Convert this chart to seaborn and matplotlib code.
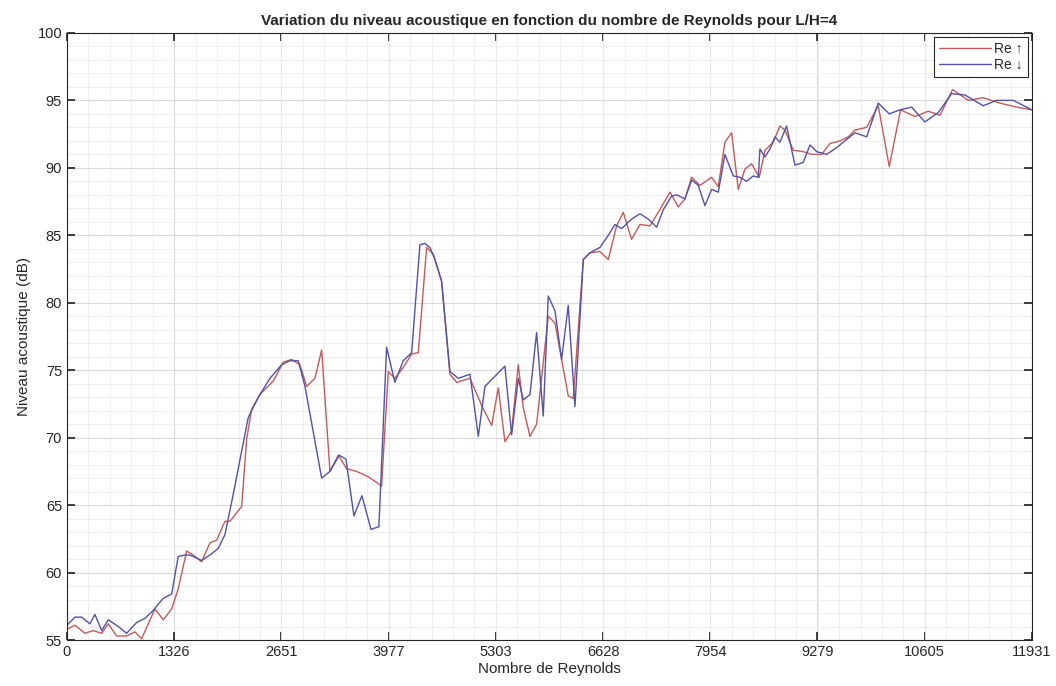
import numpy as np
import pandas as pd
import matplotlib
matplotlib.use("Agg")
import matplotlib.pyplot as plt
from matplotlib.ticker import MultipleLocator, AutoMinorLocator
import seaborn as sns

# Re increasing (red)
re_up_x = [0, 99, 223, 325, 429, 511, 614, 738, 841, 923, 1005, 1088, 1191, 1294,
           1376, 1480, 1562, 1665, 1768, 1851, 1953, 2015, 2160, 2222, 2283, 2386,
           2551, 2675, 2778, 2881, 2964, 3066, 3149, 3252, 3355, 3458, 3581, 3725,
           3849, 3890, 3973, 4055, 4158, 4262, 4344, 4447, 4529, 4632, 4735, 4818,
           4983, 5127, 5251, 5333, 5415, 5498, 5580, 5642, 5725, 5807, 5951, 6034,
           6198, 6260, 6384, 6466, 6590, 6693, 6796, 6878, 6981, 7085, 7208, 7311,
           7456, 7558, 7641, 7724, 7826, 7971, 8053, 8135, 8218, 8300, 8383, 8465,
           8560, 8630, 8733, 8815, 8877, 8980, 9104, 9207, 9331, 9434, 9557, 9660,
           9743, 9887, 10031, 10167, 10307, 10485, 10650, 10794, 10950, 11144, 11329,
           11535, 11742, 11931]
re_up_db = [55.8, 56.1, 55.5, 55.7, 55.5, 56.2, 55.3, 55.3, 55.6, 55.1, 56.2, 57.3, 56.5, 57.3,
            58.8, 61.6, 61.3, 60.8, 62.2, 62.4, 63.8, 63.8, 64.9, 69.9, 72.1, 73.2,
            74.2, 75.6, 75.8, 75.4, 73.8, 74.4, 76.5, 67.5, 68.7, 67.7, 67.5, 67.1,
            66.6, 66.4, 74.9, 74.4, 75.2, 76.2, 76.3, 84.1, 83.6, 81.6, 74.7, 74.1,
            74.4, 72.4, 70.9, 73.7, 69.7, 70.5, 75.4, 72.2, 70.1, 71.0, 79.0, 78.5,
            73.1, 72.9, 83.2, 83.7, 83.8, 83.2, 85.7, 86.7, 84.7, 85.8, 85.7, 86.7,
            88.2, 87.1, 87.7, 89.3, 88.7, 89.3, 88.6, 91.9, 92.6, 88.4, 89.9, 90.3,
            89.3, 91.3, 91.9, 93.1, 92.8, 91.3, 91.2, 91.0, 91.0, 91.8, 92.0, 92.3,
            92.8, 93.0, 94.6, 90.1, 94.3, 93.8, 94.2, 93.9, 95.8, 95.0, 95.2,
            94.8, 94.5, 94.3]

# Re decreasing (blue)
re_down_x = [0, 99, 181, 284, 346, 429, 511, 635, 738, 862, 964, 1067, 1191, 1294,
             1376, 1459, 1521, 1665, 1768, 1871, 1953, 2056, 2160, 2242, 2366, 2510,
             2654, 2757, 2860, 2943, 3149, 3252, 3367, 3450, 3548, 3647, 3759, 3857,
             3952, 4055, 4158, 4262, 4364, 4426, 4488, 4550, 4632, 4735, 4838, 4983,
             5086, 5168, 5415, 5498, 5580, 5642, 5725, 5807, 5889, 5951, 6034, 6116,
             6198, 6281, 6384, 6466, 6590, 6693, 6776, 6858, 6981, 7085, 7188, 7291,
             7373, 7476, 7538, 7641, 7724, 7806, 7888, 7971, 8053, 8135, 8238, 8321,
             8404, 8486, 8548, 8568, 8630, 8692, 8754, 8815, 8898, 9001, 9104, 9187,
             9269, 9393, 9517, 9640, 9743, 9887, 10031, 10167, 10299, 10444, 10608,
             10773, 10938, 11103, 11329, 11494, 11700, 11931]
re_down_db = [56.1, 56.7, 56.7, 56.2, 56.9, 55.7, 56.5, 56.0, 55.5, 56.3, 56.6, 57.2, 58.1, 58.4,
              61.2, 61.3, 61.3, 60.9, 61.3, 61.8, 62.8, 65.8, 69.0, 71.5, 73.0, 74.4,
              75.4, 75.7, 75.7, 73.8, 67.0, 67.5, 68.7, 68.4, 64.2, 65.7, 63.2, 63.4,
              76.7, 74.1, 75.7, 76.3, 84.3, 84.4, 84.1, 83.2, 81.6, 74.9, 74.4, 74.7,
              70.1, 73.8, 75.3, 70.2, 74.4, 72.8, 73.2, 77.8, 71.6, 80.5, 79.4, 75.8,
              79.8, 72.3, 83.2, 83.7, 84.1, 85.0, 85.8, 85.5, 86.2, 86.6, 86.2, 85.6,
              86.9, 87.9, 88.0, 87.7, 89.1, 88.7, 87.2, 88.4, 88.2, 91.0, 89.4, 89.3,
              89.0, 89.4, 89.3, 91.4, 90.8, 91.4, 92.3, 91.9, 93.1, 90.2, 90.4, 91.7,
              91.2, 91.0, 91.5, 92.1, 92.6, 92.3, 94.8, 94.0, 94.3, 94.5, 93.4,
              94.1, 95.5, 95.4, 94.6, 95.0, 95.0, 94.3]

xtick_labels = ['0', '1326', '2651', '3977', '5303', '6628', '7954', '9279', '10605', '11931']

df = pd.concat([
    pd.DataFrame({'Re': re_up_x, 'dB': re_up_db, 'serie': 'Re \u2191'}),
    pd.DataFrame({'Re': re_down_x, 'dB': re_down_db, 'serie': 'Re \u2193'}),
], ignore_index=True)

sns.set_theme(style="ticks")
plt.rcParams['font.family'] = ['Liberation Sans', 'DejaVu Sans']

fig = plt.figure(figsize=(10.56, 6.86), dpi=100)
ax = fig.add_axes([0.0634, 0.067, 0.9138, 0.885])

sns.lineplot(data=df, x='Re', y='dB', hue='serie', sort=False, estimator=None,
             palette={'Re \u2191': '#c45a5a', 'Re \u2193': '#5252a6'},
             linewidth=1.0, ax=ax)

ax.set_xlim(0, 11931)
ax.set_ylim(55, 100)
ax.set_xticks([int(t) for t in xtick_labels])
ax.set_xticklabels(xtick_labels)
ax.yaxis.set_major_locator(MultipleLocator(5))
ax.xaxis.set_minor_locator(AutoMinorLocator(5))
ax.yaxis.set_minor_locator(AutoMinorLocator(5))
ax.grid(which='major', color='#d9d9d9', linewidth=0.8)
ax.grid(which='minor', color='#ededed', linewidth=0.6)
ax.set_axisbelow(True)
ax.tick_params(which='both', direction='in', top=True, right=True, labelsize=10.5,
               colors='#262626')
ax.tick_params(which='minor', length=0)
for s in ax.spines.values():
    s.set_color('#262626')
    s.set_linewidth(0.8)

ax.set_title('Variation du niveau acoustique en fonction du nombre de Reynolds pour L/H=4',
             fontsize=11, fontweight='bold', pad=6)
ax.set_xlabel('Nombre de Reynolds', fontsize=11, labelpad=2)
ax.set_ylabel('Niveau acoustique (dB)', fontsize=11, labelpad=5)

leg = ax.legend(loc='upper right', fontsize=10, frameon=True, fancybox=False,
                edgecolor='#262626', framealpha=1, borderaxespad=0.3,
                handlelength=3.8, handletextpad=0.2, borderpad=0.35, labelspacing=0.15)
leg.get_frame().set_linewidth(0.8)

fig.savefig('out.png', dpi=100)
